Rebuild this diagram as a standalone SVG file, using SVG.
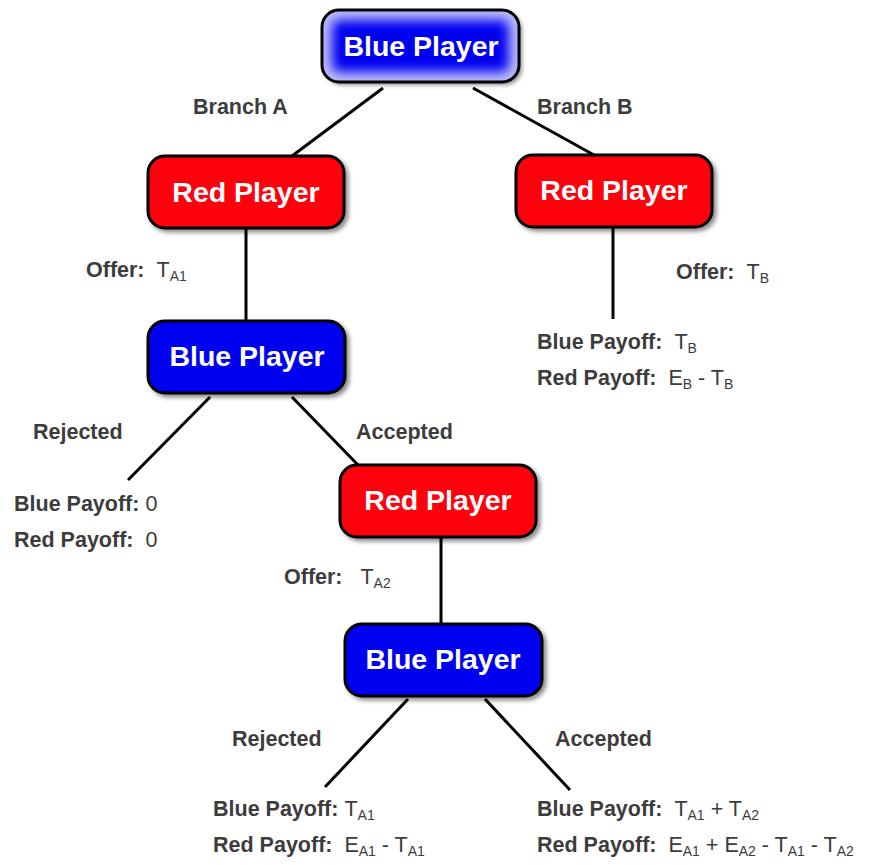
<svg xmlns="http://www.w3.org/2000/svg" width="877" height="865" viewBox="0 0 877 865">
<defs>
<filter id="sh" x="-10%" y="-10%" width="125%" height="130%">
<feDropShadow dx="3" dy="3" stdDeviation="2" flood-color="#000" flood-opacity="0.45"/>
</filter>
<filter id="glow" x="-20%" y="-20%" width="140%" height="140%">
<feGaussianBlur stdDeviation="6"/>
</filter>
<clipPath id="topclip"><rect x="322" y="10" width="197" height="72" rx="17"/></clipPath>
</defs>
<style>
.box{stroke:#000;stroke-width:3}
.red{fill:#ff0010}
.blue{fill:#0000f0}
.nt{font-family:"Liberation Sans",Arial,sans-serif;font-weight:bold;font-size:28.5px;fill:#fff;text-anchor:middle}
.lb{font-family:"Liberation Sans",Arial,sans-serif;font-weight:bold;font-size:21.5px;fill:#3c3c3c;white-space:pre}
.v{font-weight:normal}
.s{font-size:14px;font-weight:normal}
.ln{stroke:#000;stroke-width:3;fill:none}
</style>
<g id="connectors">
<line class="ln" x1="383" y1="88" x2="292" y2="156"/>
<line class="ln" x1="473" y1="88" x2="594" y2="155"/>
<line class="ln" x1="246" y1="228" x2="246" y2="321"/>
<line class="ln" x1="613" y1="227" x2="613" y2="319"/>
<line class="ln" x1="210" y1="397" x2="128" y2="480"/>
<line class="ln" x1="292" y1="397" x2="358" y2="465"/>
<line class="ln" x1="441" y1="537" x2="441" y2="623"/>
<line class="ln" x1="408" y1="699" x2="325" y2="787"/>
<line class="ln" x1="485" y1="699" x2="570" y2="790"/>
</g>
<g id="n_blue_top">
<g filter="url(#sh)">
<rect x="322" y="10" width="197" height="72" rx="17" fill="#0000f0"/>
</g>
<g clip-path="url(#topclip)">
<rect x="322" y="10" width="197" height="72" rx="17" fill="none" stroke="#fff" stroke-width="20" opacity="0.75" filter="url(#glow)"/>
</g>
<rect x="322" y="10" width="197" height="72" rx="17" fill="none" class="box"/>
<text class="nt" x="421" y="56">Blue Player</text>
</g>
<g id="n_red_a">
<rect class="box red" x="148" y="156" width="196" height="72" rx="17" filter="url(#sh)"/>
<text class="nt" x="246" y="202">Red Player</text>
</g>
<g id="n_red_b">
<rect class="box red" x="516" y="155" width="196" height="72" rx="17" filter="url(#sh)"/>
<text class="nt" x="614" y="200">Red Player</text>
</g>
<g id="n_blue_2">
<rect class="box blue" x="148" y="321" width="197" height="72" rx="17" filter="url(#sh)"/>
<text class="nt" x="247" y="366">Blue Player</text>
</g>
<g id="n_red_3">
<rect class="box red" x="340" y="465" width="196" height="72" rx="17" filter="url(#sh)"/>
<text class="nt" x="438" y="510">Red Player</text>
</g>
<g id="n_blue_3">
<rect class="box blue" x="345" y="624" width="197" height="72" rx="17" filter="url(#sh)"/>
<text class="nt" x="443" y="669">Blue Player</text>
</g>
<g id="labels">
<text class="lb" x="193" y="114">Branch A</text>
<text class="lb" x="537" y="114">Branch B</text>
<text class="lb" x="86" y="277" xml:space="preserve">Offer:  <tspan class="v">T</tspan><tspan class="s" dy="4">A1</tspan></text>
<text class="lb" x="676" y="279" xml:space="preserve">Offer:  <tspan class="v">T</tspan><tspan class="s" dy="4">B</tspan></text>
<text class="lb" x="537" y="349" xml:space="preserve">Blue Payoff:  <tspan class="v">T</tspan><tspan class="s" dy="4">B</tspan></text>
<text class="lb" x="537" y="385" xml:space="preserve">Red Payoff:  <tspan class="v">E</tspan><tspan class="s" dy="4">B</tspan><tspan class="v" dy="-4"> - T</tspan><tspan class="s" dy="4">B</tspan></text>
<text class="lb" x="33" y="439">Rejected</text>
<text class="lb" x="356" y="439">Accepted</text>
<text class="lb" x="14" y="511" xml:space="preserve">Blue Payoff: <tspan class="v">0</tspan></text>
<text class="lb" x="14" y="547" xml:space="preserve">Red Payoff:  <tspan class="v">0</tspan></text>
<text class="lb" x="284" y="584" xml:space="preserve">Offer:   <tspan class="v">T</tspan><tspan class="s" dy="4">A2</tspan></text>
<text class="lb" x="232" y="746">Rejected</text>
<text class="lb" x="555" y="746">Accepted</text>
<text class="lb" x="213" y="816" xml:space="preserve">Blue Payoff: <tspan class="v">T</tspan><tspan class="s" dy="4">A1</tspan></text>
<text class="lb" x="213" y="852" xml:space="preserve">Red Payoff:  <tspan class="v">E</tspan><tspan class="s" dy="4">A1</tspan><tspan class="v" dy="-4"> - T</tspan><tspan class="s" dy="4">A1</tspan></text>
<text class="lb" x="537" y="816" xml:space="preserve">Blue Payoff:  <tspan class="v">T</tspan><tspan class="s" dy="4">A1</tspan><tspan class="v" dy="-4"> + T</tspan><tspan class="s" dy="4">A2</tspan></text>
<text class="lb" x="537" y="852" xml:space="preserve">Red Payoff:  <tspan class="v">E</tspan><tspan class="s" dy="4">A1</tspan><tspan class="v" dy="-4"> + E</tspan><tspan class="s" dy="4">A2</tspan><tspan class="v" dy="-4"> - T</tspan><tspan class="s" dy="4">A1</tspan><tspan class="v" dy="-4"> - T</tspan><tspan class="s" dy="4">A2</tspan></text>
</g>
</svg>
